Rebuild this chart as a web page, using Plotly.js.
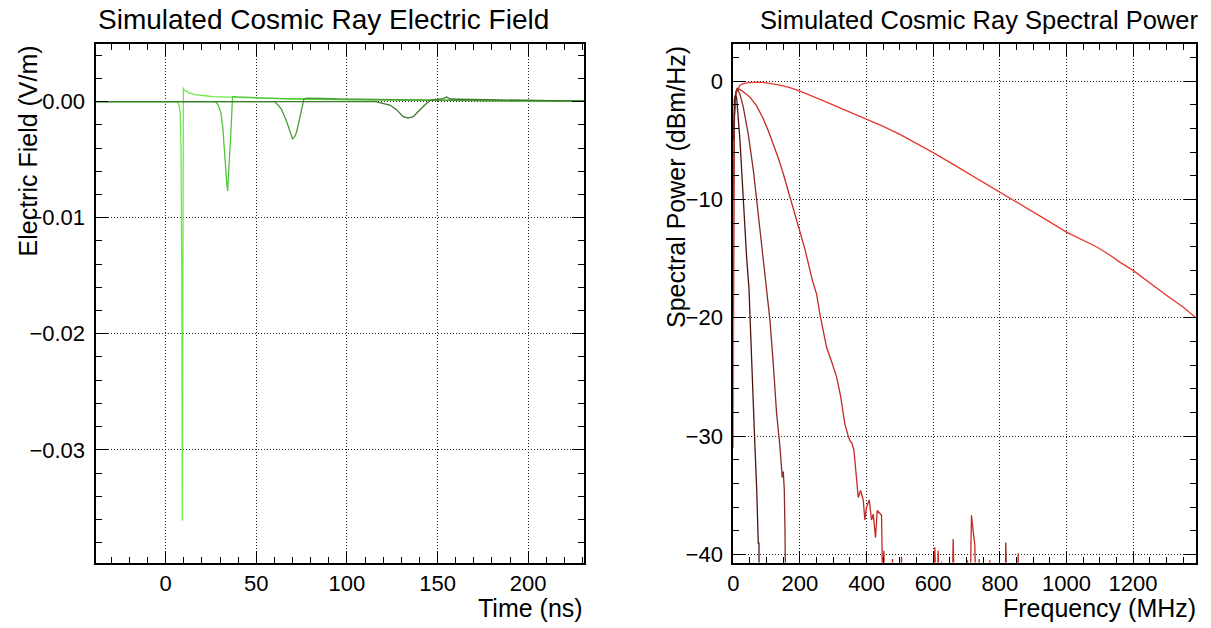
<!DOCTYPE html>
<html>
<head>
<meta charset="utf-8">
<script src="https://cdn.plot.ly/plotly-3.0.1.min.js"></script>
<style>
html,body{margin:0;padding:0;background:#fff;}
#chart{width:1211px;height:628px;}
</style>
</head>
<body>
<div id="chart"></div>
<script>
// ---------- Left panel: electric field vs time ----------
var t1 = [-38.7, 6.5, 7.5, 8.0, 8.5, 8.9, 9.2, 9.5, 9.8, 10.2, 11, 12, 13, 14, 16, 18, 20, 23, 26, 30, 35, 40, 45, 50, 60, 70, 80, 100, 120, 150, 180, 210, 230.8];
var e1 = [0, 0, -0.0004, -0.0010, -0.0040, -0.0150, -0.0361, -0.0200, 0.0012, 0.0010, 0.0009, 0.00085, 0.0007, 0.00072, 0.0006, 0.00055, 0.0005, 0.00048, 0.00042, 0.0004, 0.00035, 0.00033, 0.0003, 0.00028, 0.00025, 0.00022, 0.0002, 0.00017, 0.00014, 0.0001, 0.00008, 0.00005, 0.00003];

var t2 = [-38.7, 27.5, 29, 30.5, 31.5, 32.2, 33, 33.7, 34.2, 34.7, 35.5, 36.2, 36.9, 37.5, 39, 41, 44, 48, 55, 65, 80, 100, 130, 160, 200, 230.8];
var e2 = [0, 0, -0.0003, -0.0010, -0.0022, -0.0039, -0.0055, -0.0070, -0.0077, -0.0065, -0.0044, -0.0020, 0.0004, 0.00045, 0.0004, 0.00038, 0.00036, 0.00034, 0.0003, 0.00026, 0.0002, 0.00016, 0.00012, 0.0001, 0.00006, 0.00003];

var t3 = [-38.7, 60, 62, 64, 66.7, 68.6, 70, 71.3, 72.3, 74, 75.3, 76.3, 78, 82, 87, 95, 110, 130, 160, 200, 230.8];
var e3 = [0, 0, -0.0003, -0.0007, -0.0017, -0.0026, -0.0032, -0.0030, -0.0026, -0.0014, -0.0004, 0.00023, 0.0003, 0.0003, 0.00028, 0.00022, 0.00018, 0.00014, 0.0001, 0.00006, 0.00003];

var t4 = [-38.7, 116, 118, 121, 123.7, 127.4, 131, 133.8, 136.6, 140.3, 144, 146.7, 150, 153, 155, 157, 162, 170, 185, 200, 215, 230.8];
var e4 = [0, 0, -0.0001, -0.0002, -0.0003, -0.0007, -0.0013, -0.00143, -0.0013, -0.0007, -0.00014, 0.00015, 0.00022, 0.00025, 0.0004, 0.00022, 0.0002, 0.00018, 0.00014, 0.0001, 0.00006, 0.00003];

// ---------- Right panel: spectral power vs frequency ----------
var fA = [0, 2, 5, 10, 20, 30, 45, 60, 80, 100, 120, 140, 170, 200, 250, 300, 350, 400, 450, 500, 550, 600, 650, 700, 750, 800, 850, 900, 950, 1000, 1050, 1090, 1130, 1160, 1200, 1240, 1270, 1300, 1350, 1389];
var pA = [-31, -5, -1.6, -0.93, -0.35, -0.22, -0.12, -0.08, -0.09, -0.14, -0.22, -0.33, -0.55, -0.85, -1.42, -2.02, -2.6, -3.18, -3.82, -4.5, -5.25, -6.05, -6.87, -7.7, -8.55, -9.38, -10.2, -11.07, -11.9, -12.76, -13.45, -14.0, -14.7, -15.3, -16.0, -16.85, -17.5, -18.1, -19.1, -20.0];

var fB = [0, 3, 7, 12, 25, 50, 70, 90, 105, 120,
          135, 150, 170, 185, 200, 215, 237, 250, 260, 270,
          280, 295, 310, 322, 335, 345, 350, 356, 362, 368,
          375, 382, 390, 395, 400, 408, 415, 420, 427, 432,
          440, 445, 448, 452, 456, 460, 470, 478, 486, 500,
          505, 510, 600, 605, 610, 615, 620, 625, 635, 640,
          655, 660, 665, 670, 700, 703, 710, 715, 720, 725,
          730, 738, 745, 765, 770, 775, 850, 855, 858, 862,
          900, 1389];
var pB = [-20, -3, -1, -0.6, -0.8, -1.35, -2.1, -3.18, -4.2, -5.3,
          -6.5, -7.83, -9.8, -11.2, -12.6, -14.2, -16.8, -18.0, -19.7, -21.1,
          -22.5, -23.7, -25.0, -26.6, -29.0, -30.0, -30.4, -30.6, -31.2, -33.0,
          -35.2, -34.6, -35.4, -37.1, -36.0, -35.4, -37.1, -36.6, -38.6, -36.3,
          -36.6, -36.7, -42, -39.7, -45, -48, -48, -40.4, -48, -48,
          -40.2, -48, -48, -39.4, -45, -39.7, -45, -40.6, -45, -48,
          -48, -38.7, -45, -48, -48, -40.5, -45, -36.7, -38, -39.2,
          -45, -40.4, -48, -48, -40.5, -48, -48, -39.9, -45, -48,
          -48, -50];

var fC = [0, 3, 8, 12, 20, 30, 45, 60, 70, 80, 90, 100, 110, 120, 130, 140, 147, 150, 153, 155, 157, 160, 400, 815, 818, 821, 830, 1389];
var pC = [-10, -3, -0.9, -0.65, -1.1, -2.2, -4.5, -7.5, -10, -12.5, -14.9, -17.2, -20.2, -23.9, -28.1, -30.9, -33.5, -33.0, -34.5, -37.7, -42, -50, -55, -48, -39, -48, -55, -60];

var fD = [0, 3, 6, 10, 20, 30, 40, 47, 50, 58, 65, 70, 73, 75, 77, 78, 80, 200, 1389];
var pD = [-5, -1.6, -1.2, -1.4, -5.0, -10.1, -14.9, -17.5, -20, -25.3, -30.9, -34.3, -36.5, -39.1, -39.0, -45, -55, -60, -60];

// ---------- Text ----------
var titleLeft = "Simulated Cosmic Ray Electric Field";
var titleRight = "Simulated Cosmic Ray Spectral Power";
var xTitleLeft = "Time (ns)";
var yTitleLeft = "Electric Field (V/m)";
var xTitleRight = "Frequency (MHz)";
var yTitleRight = "Spectral Power (dBm/Hz)";

var W = 1211, H = 628;
var FONT = '"Liberation Sans", Arial, Helvetica, sans-serif';
function px(x){ return x / W; }
function py(y){ return 1 - y / H; }

var greens = ['#6fea4c', '#52c63a', '#4b9e3a', '#3c7a2c'];
var reds = ['#e8382e', '#c42a22', '#8c2a24', '#4d1410'];

var traces = [
  {x: t1, y: e1, xaxis: 'x', yaxis: 'y', mode: 'lines', line: {color: greens[0], width: 1.3}},
  {x: t2, y: e2, xaxis: 'x', yaxis: 'y', mode: 'lines', line: {color: greens[1], width: 1.3}},
  {x: t3, y: e3, xaxis: 'x', yaxis: 'y', mode: 'lines', line: {color: greens[2], width: 1.3}},
  {x: t4, y: e4, xaxis: 'x', yaxis: 'y', mode: 'lines', line: {color: greens[3], width: 1.3}},
  {x: fA, y: pA, xaxis: 'x2', yaxis: 'y2', mode: 'lines', line: {color: reds[0], width: 1.3}},
  {x: fB, y: pB, xaxis: 'x2', yaxis: 'y2', mode: 'lines', line: {color: reds[1], width: 1.3}},
  {x: fC, y: pC, xaxis: 'x2', yaxis: 'y2', mode: 'lines', line: {color: reds[2], width: 1.3}},
  {x: fD, y: pD, xaxis: 'x2', yaxis: 'y2', mode: 'lines', line: {color: reds[3], width: 1.3}}
];

function minorTicks(d){
  return {ticks: 'inside', ticklen: 6, tickwidth: 1, tickcolor: '#000', dtick: d, tick0: 0, showgrid: false};
}

function axisBase(extra){
  var a = {
    showline: true, linecolor: '#000', linewidth: 2, mirror: 'allticks',
    ticks: 'inside', ticklen: 12, tickwidth: 1, tickcolor: '#000',
    showgrid: true, gridcolor: '#222', gridwidth: 1, griddash: '1px,2px',
    zeroline: false,
    tickfont: {family: FONT, size: 22, color: '#000'}
  };
  for (var k in extra) a[k] = extra[k];
  return a;
}

var yDom = [py(562.5), py(43.5)];

var layout = {
  width: W, height: H,
  margin: {l: 0, r: 0, t: 0, b: 0},
  paper_bgcolor: '#fff', plot_bgcolor: '#fff',
  showlegend: false,
  font: {family: FONT, color: '#000'},
  xaxis: axisBase({domain: [px(95.5), px(584)], range: [-38.7, 230.8], tick0: 0, dtick: 50, minor: minorTicks(10), anchor: 'y'}),
  yaxis: axisBase({domain: yDom, range: [-0.0397, 0.005], tick0: 0, dtick: 0.01, tickformat: '.2f', ticklabelstandoff: 4, minor: minorTicks(0.002), anchor: 'x'}),
  xaxis2: axisBase({domain: [px(733.3), px(1196)], range: [0, 1389], tick0: 0, dtick: 200, minor: minorTicks(50), anchor: 'y2'}),
  yaxis2: axisBase({domain: yDom, range: [-40.69, 3.18], tick0: 0, dtick: 10, ticklabelstandoff: 4, minor: minorTicks(2), anchor: 'x2'}),
  annotations: [
    {text: titleLeft, xref: 'paper', yref: 'paper', x: px(323), y: py(20), xanchor: 'center', yanchor: 'middle', showarrow: false, font: {family: FONT, size: 28, color: '#000'}},
    {text: titleRight, xref: 'paper', yref: 'paper', x: px(1200), y: py(20), xanchor: 'right', yanchor: 'middle', showarrow: false, font: {family: FONT, size: 25.5, color: '#000'}},
    {text: xTitleLeft, xref: 'paper', yref: 'paper', x: px(585), y: py(608), xanchor: 'right', yanchor: 'middle', showarrow: false, font: {family: FONT, size: 25, color: '#000'}},
    {text: xTitleRight, xref: 'paper', yref: 'paper', x: px(1198), y: py(608), xanchor: 'right', yanchor: 'middle', showarrow: false, font: {family: FONT, size: 25, color: '#000'}},
    {text: yTitleLeft, xref: 'paper', yref: 'paper', x: px(27), y: py(44), xanchor: 'center', yanchor: 'top', textangle: -90, showarrow: false, font: {family: FONT, size: 25, color: '#000'}},
    {text: yTitleRight, xref: 'paper', yref: 'paper', x: px(676), y: py(44), xanchor: 'center', yanchor: 'top', textangle: -90, showarrow: false, font: {family: FONT, size: 25, color: '#000'}}
  ]
};

Plotly.newPlot('chart', traces, layout, {displayModeBar: false, staticPlot: true});
</script>
</body>
</html>
